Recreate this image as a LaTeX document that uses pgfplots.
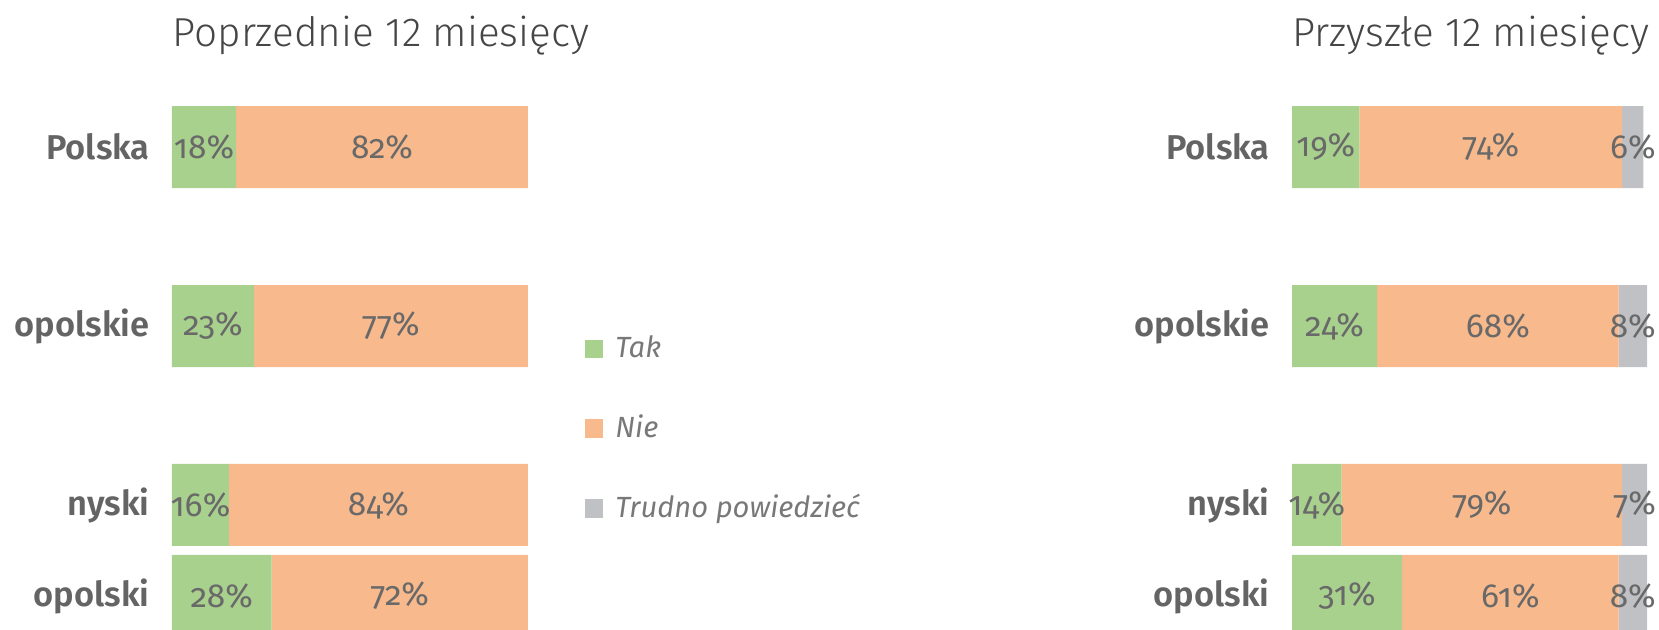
\documentclass[border=0pt]{standalone}
\usepackage{fontspec}
\setmainfont{Fira Sans}
\newfontfamily\lightfont{Fira Sans Light}
\newfontfamily\semifont{Fira Sans SemiBold}
\newfontfamily\numfont{Fira Sans}[Numbers=OldStyle]
\usepackage{pgfplots}
\pgfplotsset{compat=1.18}
\definecolor{cTak}{RGB}{169,209,142}
\definecolor{cNie}{RGB}{248,186,140}
\definecolor{cTrud}{RGB}{192,193,196}
\definecolor{cLab}{RGB}{105,105,105}
\definecolor{cCat}{RGB}{100,100,100}
\definecolor{cTitle}{RGB}{70,70,70}
\definecolor{cLeg}{RGB}{120,120,120}
\pgfplotsset{
  panel/.style={
    scale only axis, height=5.5cm,
    xmin=0, xmax=100, ymin=80, ymax=630, y dir=reverse,
    anchor=south west,
  },
  barpanel/.style={
    panel, xbar stacked, bar width=82,
    axis line style={draw=none}, major tick style={draw=none},
    xtick=\empty, ytick={147,326,505,596},
    yticklabels={Polska,opolskie,nyski,opolski},
    yticklabel style={font=\semifont\fontsize{9.8}{12}\selectfont, text=cCat, xshift=-0.1cm},
    title style={at={(0,1)}, anchor=base west, yshift=0.12cm, inner sep=0pt,
      font=\lightfont\fontsize{11.5}{14}\selectfont, text=cTitle},
  },
  labpanel/.style={
    panel, hide axis, clip=false,
  },
  lab/.style={only marks, mark=none, nodes near coords={\numfont\pgfplotspointmeta}, point meta=explicit symbolic,
    nodes near coords style={anchor=center, font=\numfont\fontsize{9.5}{11}\selectfont, text=cLab}},
}
\begin{document}
\begin{tikzpicture}
\useasboundingbox (0,0) rectangle (16.59,6.30);
% left panel
\begin{axis}[barpanel, at={(1.72cm,0cm)}, width=3.56cm, title={Poprzednie 12 miesięcy}]
\addplot[fill=cTak, draw=none] coordinates {(18,147) (23,326) (16,505) (28,596)};
\addplot[fill=cNie, draw=none] coordinates {(82,147) (77,326) (84,505) (72,596)};
\end{axis}
\begin{axis}[labpanel, at={(1.72cm,0cm)}, width=3.56cm,
  legend style={draw=none, fill=none, at={(1.158,0.365)}, anchor=west,
    font=\itshape\fontsize{8.3}{10}\selectfont, text=cLeg, row sep=0.377cm,
    cells={anchor=west}, inner sep=0pt,
    /tikz/every odd column/.append style={column sep=0.05cm}},
  legend image code/.code={\fill[#1] (0cm,-0.085cm) rectangle (0.17cm,0.085cm);},
  ]
\addlegendimage{cTak}
\addlegendentry{Tak}
\addlegendimage{cNie}
\addlegendentry{Nie}
\addlegendimage{cTrud}
\addlegendentry{Trudno powiedzieć}
\addplot[lab] coordinates {(9,147) [18\%] (11.5,326) [23\%] (8,505) [16\%] (14,596) [28\%]};
\addplot[lab] coordinates {(59,147) [82\%] (61.5,326) [77\%] (58,505) [84\%] (64,596) [72\%]};
\end{axis}
% right panel
\begin{axis}[barpanel, at={(12.92cm,0cm)}, width=3.55cm, title={Przyszłe 12 miesięcy}]
\addplot[fill=cTak, draw=none] coordinates {(19,147) (24,326) (14,505) (31,596)};
\addplot[fill=cNie, draw=none] coordinates {(74,147) (68,326) (79,505) (61,596)};
\addplot[fill=cTrud, draw=none] coordinates {(6,147) (8,326) (7,505) (8,596)};
\end{axis}
\begin{axis}[labpanel, at={(12.92cm,0cm)}, width=3.55cm]
\addplot[lab] coordinates {(9.5,147) [19\%] (12,326) [24\%] (7,505) [14\%] (15.5,596) [31\%]};
\addplot[lab] coordinates {(56,147) [74\%] (58,326) [68\%] (53.5,505) [79\%] (61.5,596) [61\%]};
\addplot[lab] coordinates {(96,147) [6\%] (96,326) [8\%] (96.5,505) [7\%] (96,596) [8\%]};
\end{axis}
\end{tikzpicture}
\end{document}
